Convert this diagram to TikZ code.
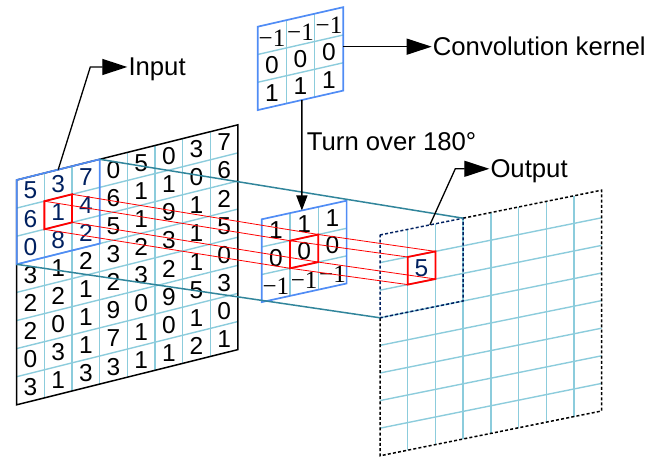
\documentclass[tikz,border=0pt]{standalone}
\usepackage{amsmath}
\usepackage{fontspec}
\usepackage{xcolor}
\setmainfont{Liberation Sans}
\newfontfamily\serifdigits{Liberation Serif}
\usetikzlibrary{arrows.meta}

\begin{document}
\begin{tikzpicture}[x=1pt, y=1pt,
		cellline/.style={line width=1.4pt, color=GRID_BLUE},
		windowframe/.style={line width=1.7pt, color=FRAME_BLUE},
		redcell/.style={line width=1.8pt, color=RED},
		redray/.style={line width=0.8pt, color=RED},
		tealray/.style={line width=1.5pt, color=TEAL},
		outdash/.style={line width=1.5pt, dash pattern=on 3pt off 2.2pt},
		num/.style={font=\fontsize{24.5}{24.5}\selectfont, inner sep=0pt},
		negnum/.style={font=\serifdigits\fontsize{25}{25}\selectfont, inner sep=0pt},
		labeltext/.style={font=\fontsize{25.7}{30}\selectfont, inner sep=1pt, text depth=0pt, anchor=west},
		callout/.style={line width=1.3pt, color=ALMOST_BLACK, -{Triangle[length=25pt, width=16pt]}}]
				\definecolor{RED}{RGB}{255, 0, 0}
				\definecolor{NAVY}{RGB}{0, 32, 96}
				\definecolor{TEAL}{RGB}{49, 133, 155}
				\definecolor{GRID_BLUE}{RGB}{140, 204, 220}
				\definecolor{FRAME_BLUE}{RGB}{80, 140, 245}
				\definecolor{ALMOST_BLACK}{RGB}{0, 0, 0}
				\useasboundingbox (0,0) rectangle (651,457);

				% input map
				\begin{scope}[shift={(16.7pt,277pt)}, x={(27.66pt,6.9pt)}, y={(0pt,-28.1pt)}]
					\foreach \i in {1,...,7} {
						\draw[cellline] (\i,0) -- (\i,8);
						\draw[cellline] (0,\i) -- (8,\i);
					}
					\draw[line width=1.5pt, color=ALMOST_BLACK] (0,0) -- (8,0) -- (8,8) -- (0,8) -- cycle;
					\draw[windowframe] (0,0) -- (3,0) -- (3,3) -- (0,3) -- cycle;
					\draw[redcell] (1,1) -- (2,1) -- (2,2) -- (1,2) -- cycle;
					\foreach [count=\ri from 0] \cells in {{5,3,7,0,5,0,3,7},{6,1,4,6,1,1,0,6},{0,8,2,5,1,9,1,2},{3,1,2,3,2,3,1,5},
						{2,2,1,2,3,2,1,0},{2,0,1,9,0,9,5,3},{0,3,1,7,1,0,1,0},{3,1,3,3,1,1,2,1}}
						\foreach [count=\ci from 0] \val in \cells {
							\ifnum\ci<3 \ifnum\ri<3 \def\numcol{NAVY}\else\def\numcol{ALMOST_BLACK}\fi \else\def\numcol{ALMOST_BLACK}\fi
							\node[num, text=\numcol] at (\ci+0.5,\ri+0.5) {\val};
						}
					\coordinate (inputpin) at (1.5,0);
					\coordinate (inWinTR) at (3,0);
					\coordinate (inWinBL) at (0,3);
					\coordinate (inTL) at (1,1);
					\coordinate (inTR) at (2,1);
					\coordinate (inBL) at (1,2);
					\coordinate (inBR) at (2,2);
				\end{scope}

				% kernel
				\begin{scope}[shift={(257.7pt,430.3pt)}, x={(28.5pt,6.5pt)}, y={(0pt,-27.8pt)}]
					\foreach \i in {1,2} {
						\draw[cellline] (\i,0) -- (\i,3);
						\draw[cellline] (0,\i) -- (3,\i);
					}
					\draw[windowframe] (0,0) -- (3,0) -- (3,3) -- (0,3) -- cycle;
					\foreach \ci in {0,1,2} {
						\node[negnum] at (\ci+0.5,0.55) {−1};
						\node[num] at (\ci+0.5,1.5) {0};
						\node[num] at (\ci+0.5,2.5) {1};
					}
					\coordinate (kernelpin) at (3,1.42);
					\coordinate (turnstart) at (1.55,3);
				\end{scope}

				% kernel after the turn
				\begin{scope}[shift={(261.7pt,237.7pt)}, x={(28.3pt,6.2pt)}, y={(0pt,-27.6pt)}]
					\foreach \i in {1,2} {
						\draw[cellline] (\i,0) -- (\i,3);
						\draw[cellline] (0,\i) -- (3,\i);
					}
					\draw[windowframe] (0,0) -- (3,0) -- (3,3) -- (0,3) -- cycle;
					\draw[redcell] (1,1) -- (2,1) -- (2,2) -- (1,2) -- cycle;
					\foreach \ci in {0,1,2} {
						\node[num] at (\ci+0.5,0.5) {1};
						\node[num] at (\ci+0.5,1.5) {0};
						\node[negnum] at (\ci+0.5,2.55) {−1};
					}
					\coordinate (turnend) at (1.42,0);
					\coordinate (midTL) at (1,1);
					\coordinate (midTR) at (2,1);
					\coordinate (midBL) at (1,2);
					\coordinate (midBR) at (2,2);
				\end{scope}

				% output map
				\begin{scope}[shift={(380pt,222pt)}, x={(27.7pt,5.6pt)}, y={(0pt,-27.6pt)}]
					\foreach \i in {1,...,7} {
						\draw[cellline] (\i,0) -- (\i,8);
						\draw[cellline] (0,\i) -- (8,\i);
					}
					\draw[outdash, color=ALMOST_BLACK] (3,0) -- (8,0) -- (8,8) -- (0,8) -- (0,3);
					\draw[outdash, color=NAVY] (0,0) -- (3,0) -- (3,3) -- (0,3) -- cycle;
					\draw[redcell] (1,1) -- (2,1) -- (2,2) -- (1,2) -- cycle;
					\node[num, text=NAVY] at (1.5,1.5) {5};
					\coordinate (outputpin) at (1.8,0);
					\coordinate (outWinTR) at (3,0);
					\coordinate (outWinBL) at (0,3);
					\coordinate (outTL) at (1,1);
					\coordinate (outTR) at (2,1);
					\coordinate (outBL) at (1,2);
					\coordinate (outBR) at (2,2);
				\end{scope}

				\draw[tealray] (inWinTR) -- (outWinTR);
				\draw[tealray] (inWinBL) -- (outWinBL);
				\foreach \k in {TL,TR,BL,BR}
					\draw[redray] (in\k) -- (mid\k) -- (out\k);

				\node[labeltext] (inputlabel) at (127.3,390) {Input};
				\node[labeltext] (kernellabel) at ([xshift=88.5pt]kernelpin) {Convolution kernel};
				\node[labeltext] (turnlabel) at (305.7,315.3) {Turn over 180°};
				\node[labeltext] (outputlabel) at (489.3,288.2) {Output};

				\draw[callout] (inputpin) -- ([xshift=-37pt]inputlabel.west) -- (inputlabel.west);
				\draw[callout] (kernelpin) -- (kernellabel.west);
				\draw[callout] (outputpin) -- ([xshift=-34pt]outputlabel.west) -- (outputlabel.west);
				\draw[line width=1.3pt, color=ALMOST_BLACK, -{Triangle[length=15pt, width=11pt]}] (turnstart) -- (turnend);
			\end{tikzpicture}
\end{document}
